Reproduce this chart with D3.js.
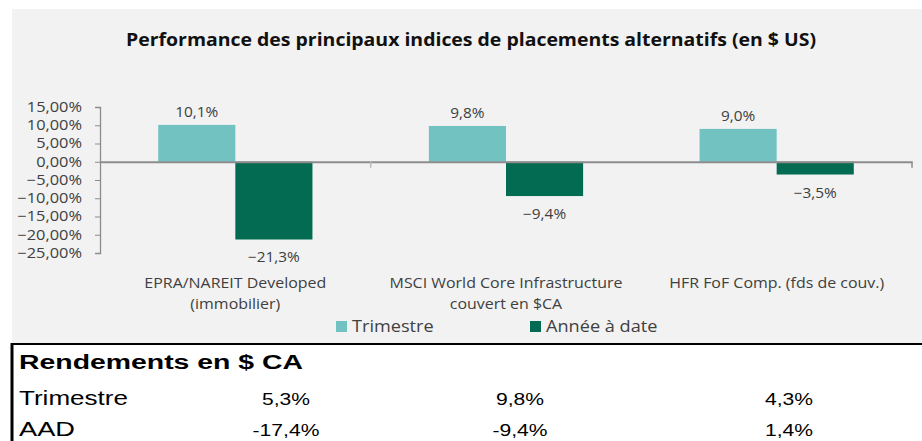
<!DOCTYPE html>
<html><head><meta charset="utf-8">
<script src="https://cdn.jsdelivr.net/npm/d3@7"></script>
<style>body{margin:0;background:#fff}svg{display:block}</style>
</head><body>
<svg id="c" width="922" height="441"></svg>
<script>
const title = "Performance des principaux indices de placements alternatifs (en $ US)";
const categories = [["EPRA/NAREIT Developed","(immobilier)"],["MSCI World Core Infrastructure","couvert en $CA"],["HFR FoF Comp. (fds de couv.)"]];
const seriesNames = ["Trimestre","Année à date"];
const trimestre = [10.1, 9.8, 9.0];
const anneeADate = [-21.3, -9.4, -3.5];
const yTicks = [15,10,5,0,-5,-10,-15,-20,-25];
const tableTitle = "Rendements en $ CA";
const tableRows = ["Trimestre","AAD"];
const tableTrimestre = ["5,3%","9,8%","4,3%"];
const tableAAD = ["-17,4%","-9,4%","1,4%"];
const colors = ["#72c2c1","#036b51"];

const svg = d3.select("#c");
const font = "'Open Sans', sans-serif";
function stretch(sel, factor){
  sel.each(function(){
    const w = this.getComputedTextLength();
    d3.select(this).attr("textLength", w*factor).attr("lengthAdjust","spacingAndGlyphs");
  });
}
svg.append("rect").attr("x",12).attr("y",9).attr("width",910).attr("height",335).attr("fill","#f2f2f2");

const tt = svg.append("text").attr("x",471).attr("y",46).attr("text-anchor","middle")
  .attr("font-family",font).attr("font-weight",700).attr("font-size",17.5).attr("fill","#111").text(title);
tt.attr("textLength",690).attr("lengthAdjust","spacingAndGlyphs");

const x0 = d3.scaleBand().domain(d3.range(categories.length)).range([100,912]);
const x1 = d3.scaleBand().domain([0,1]).range([0,x0.bandwidth()]).paddingOuter(0.755).paddingInner(0);
const y = d3.scaleLinear().domain([-25,15]).range([253,107]);

const fmt = v => d3.format(".1f")(v).replace(".",",") + "%";
const fmtAxis = v => d3.format(".2f")(v).replace(".",",").replace("-","−") + "%";

// y axis
const yAxis = svg.append("g").attr("transform","translate(100,0)")
  .call(d3.axisLeft(y).tickValues(yTicks).tickSize(5).tickPadding(13).tickFormat(fmtAxis));
yAxis.select(".domain").attr("stroke","#8c8c8c").attr("stroke-width",1.3);
yAxis.selectAll(".tick line").attr("stroke","#8c8c8c");
yAxis.selectAll("text").attr("font-family",font).attr("font-size",14).attr("fill","#404040");
stretch(yAxis.selectAll("text"), 1.17);

// bars
const series = [trimestre, anneeADate];
series.forEach((vals,s)=>{
  svg.append("g").selectAll("rect").data(vals).join("rect")
    .attr("x",(d,i)=>x0(i)+x1(s)).attr("width",x1.bandwidth())
    .attr("y",d=>y(Math.max(0,d))).attr("height",d=>Math.abs(y(d)-y(0)))
    .attr("fill",colors[s]);
  const lab = svg.append("g").selectAll("text").data(vals).join("text")
    .attr("x",(d,i)=>x0(i)+x1(s)+x1.bandwidth()/2)
    .attr("y",d=> d>=0 ? y(d)-8 : y(d)+23)
    .attr("text-anchor","middle").attr("font-family",font).attr("font-size",14).attr("fill","#404040")
    .text(d=>fmt(d).replace("-","−"));
  stretch(lab, 1.1);
});

// zero line and category ticks
const xAxis = svg.append("g").attr("transform",`translate(0,${y(0)})`)
  .call(d3.axisBottom(x0).tickValues([]).tickSizeOuter(0));
xAxis.select(".domain").attr("stroke","#8c8c8c").attr("stroke-width",2);
[1,2].forEach(i=>{
  const xx = i===2 ? 912 : x0(i);
  svg.append("line").attr("x1",xx).attr("x2",xx).attr("y1",y(0)).attr("y2",y(0)+6).attr("stroke", i===2?"#8c8c8c":"#bbb").attr("stroke-width",1.5);
});

// category labels
categories.forEach((lines,i)=>{
  lines.forEach((l,j)=>{
    const t = svg.append("text").attr("text-anchor","middle").attr("font-family",font).attr("font-size",14.5).attr("fill","#404040")
      .attr("x",x0(i)+x0.bandwidth()/2).attr("y",288+j*21).text(l);
    stretch(t, 1.1);
  });
});

// legend
const legX = [336,530];
seriesNames.forEach((n,s)=>{
  svg.append("rect").attr("x",legX[s]).attr("y",321).attr("width",11).attr("height",11).attr("fill",colors[s]);
  const t = svg.append("text").attr("x",legX[s]+16).attr("y",332).attr("font-family",font).attr("font-size",15.5).attr("fill","#404040").text(n);
  stretch(t, 1.17);
});

// table
svg.append("line").attr("x1",12).attr("x2",922).attr("y1",344).attr("y2",344).attr("stroke","#000").attr("stroke-width",2);
svg.append("line").attr("x1",12).attr("x2",12).attr("y1",343).attr("y2",441).attr("stroke","#000").attr("stroke-width",3);
const tf = "'Liberation Sans', Arial, sans-serif";
svg.append("text").attr("x",19).attr("y",369).attr("font-family",tf).attr("font-weight",700).attr("font-size",20)
  .attr("fill","#000").text(tableTitle).attr("textLength",284).attr("lengthAdjust","spacingAndGlyphs");
const colX = [286,520,789];
const rowLabW = [109,56];
[tableTrimestre, tableAAD].forEach((row,r)=>{
  const yy = 405 + r*31;
  svg.append("text").attr("x",19).attr("y",yy).attr("font-family",tf).attr("font-size",20).attr("fill","#000")
    .text(tableRows[r]).attr("textLength",rowLabW[r]).attr("lengthAdjust","spacingAndGlyphs");
  row.forEach((v,i)=>{
    const t = svg.append("text").attr("x",colX[i]).attr("y",yy).attr("text-anchor","middle")
      .attr("font-family",tf).attr("font-size",17).attr("fill","#000").text(v);
    stretch(t, 1.24);
  });
});
</script>
</body></html>
